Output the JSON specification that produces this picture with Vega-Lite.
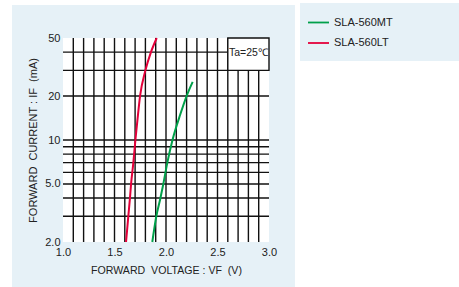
{
  "$schema": "https://vega.github.io/schema/vega-lite/v6.json",
  "width": 206,
  "height": 204,
  "autosize": {"type": "none"},
  "padding": {"left": 63, "top": 38, "right": 190, "bottom": 45},
  "background": "white",
  "config": {
    "font": "Liberation Sans",
    "view": {"stroke": "#111", "strokeWidth": 1.5},
    "axis": {"labelFont": "Liberation Sans", "titleFont": "Liberation Sans", "labelColor": "#222", "titleColor": "#222", "labelFontSize": 11, "titleFontWeight": "normal", "labelFlush": false, "labelOverlap": false}
  },
  "datasets": {
    "panels": [
      {"panel": "chart", "x0": 0.505, "x1": 3.252, "y0": 0.983, "y1": 84.2},
      {"panel": "legend", "x0": 3.301, "x1": 4.9, "y0": 34.8, "y1": 86.9}
    ],
    "plot": [{"x0": 1, "x1": 3, "y0": 2, "y1": 50}],
    "gridx": [{"v": 1.1}, {"v": 1.2}, {"v": 1.3}, {"v": 1.4}, {"v": 1.5}, {"v": 1.6}, {"v": 1.7}, {"v": 1.8}, {"v": 1.9}, {"v": 2.0}, {"v": 2.1}, {"v": 2.2}, {"v": 2.3}, {"v": 2.4}, {"v": 2.5}, {"v": 2.6}, {"v": 2.7}, {"v": 2.8}, {"v": 2.9}],
    "gridy": [{"v": 3}, {"v": 4}, {"v": 5}, {"v": 6}, {"v": 7}, {"v": 8}, {"v": 9}, {"v": 10}, {"v": 20}, {"v": 30}, {"v": 40}],
    "box": [{"x0": 2.6, "x1": 3.0, "y0": 30, "y1": 50, "xm": 2.8, "ym": 39.5, "label": "Ta=25℃"}],
    "curves": [
      {"series": "SLA-560LT", "vf": 1.612, "current": 2},
      {"series": "SLA-560LT", "vf": 1.634, "current": 3},
      {"series": "SLA-560LT", "vf": 1.65, "current": 4},
      {"series": "SLA-560LT", "vf": 1.661, "current": 5},
      {"series": "SLA-560LT", "vf": 1.683, "current": 7},
      {"series": "SLA-560LT", "vf": 1.703, "current": 10},
      {"series": "SLA-560LT", "vf": 1.724, "current": 14},
      {"series": "SLA-560LT", "vf": 1.748, "current": 20},
      {"series": "SLA-560LT", "vf": 1.80, "current": 30},
      {"series": "SLA-560LT", "vf": 1.854, "current": 40},
      {"series": "SLA-560LT", "vf": 1.91, "current": 50},
      {"series": "SLA-560MT", "vf": 1.867, "current": 2},
      {"series": "SLA-560MT", "vf": 1.906, "current": 3},
      {"series": "SLA-560MT", "vf": 1.946, "current": 4},
      {"series": "SLA-560MT", "vf": 1.974, "current": 5},
      {"series": "SLA-560MT", "vf": 2.013, "current": 7},
      {"series": "SLA-560MT", "vf": 2.063, "current": 10},
      {"series": "SLA-560MT", "vf": 2.139, "current": 15},
      {"series": "SLA-560MT", "vf": 2.2, "current": 20},
      {"series": "SLA-560MT", "vf": 2.259, "current": 25}
    ]
  },
  "layer": [
    {
      "data": {"name": "panels"},
      "mark": {"type": "rect", "color": "#e6f1f7", "clip": false},
      "encoding": {
        "x": {"field": "x0", "type": "quantitative", "scale": {"domain": [1, 3], "zero": false, "nice": false}, "title": "FORWARD\u00a0 VOLTAGE : VF\u00a0 (V)",
          "axis": {"values": [1, 1.5, 2, 2.5, 3], "format": ".1f", "ticks": false, "domain": false, "grid": false, "labelPadding": 4, "titlePadding": 8, "titleFontSize": 10.6, "zindex": 1}},
        "x2": {"field": "x1"},
        "y": {"field": "y0", "type": "quantitative", "scale": {"type": "log", "domain": [2, 50], "nice": false}, "title": "FORWARD\u00a0 CURRENT : IF\u00a0 (mA)",
          "axis": {"values": [2, 5, 10, 20, 50], "labelExpr": "datum.value < 10 ? format(datum.value, '.1f') : format(datum.value, 'd')", "ticks": false, "domain": false, "grid": false, "labelPadding": 3, "titlePadding": 6, "titleFontSize": 11, "zindex": 1}},
        "y2": {"field": "y1"}
      }
    },
    {
      "data": {"name": "plot"},
      "mark": {"type": "rect", "color": "white"},
      "encoding": {
        "x": {"field": "x0", "type": "quantitative", "scale": {"domain": [1, 3], "zero": false, "nice": false}, "title": "FORWARD\u00a0 VOLTAGE : VF\u00a0 (V)"},
        "x2": {"field": "x1"},
        "y": {"field": "y0", "type": "quantitative", "scale": {"type": "log", "domain": [2, 50], "nice": false}, "title": "FORWARD\u00a0 CURRENT : IF\u00a0 (mA)"},
        "y2": {"field": "y1"}
      }
    },
    {
      "data": {"name": "gridx"},
      "mark": {"type": "rule", "color": "#111", "strokeWidth": 1.4},
      "encoding": {
        "x": {"field": "v", "type": "quantitative", "scale": {"domain": [1, 3], "zero": false, "nice": false}, "title": "FORWARD\u00a0 VOLTAGE : VF\u00a0 (V)"}
      }
    },
    {
      "data": {"name": "gridy"},
      "mark": {"type": "rule", "color": "#111", "strokeWidth": 1.4},
      "encoding": {
        "y": {"field": "v", "type": "quantitative", "scale": {"type": "log", "domain": [2, 50], "nice": false}, "title": "FORWARD\u00a0 CURRENT : IF\u00a0 (mA)"}
      }
    },
    {
      "data": {"name": "box"},
      "mark": {"type": "rect", "fill": "white", "stroke": "#111", "strokeWidth": 1.4},
      "encoding": {
        "x": {"field": "x0", "type": "quantitative", "scale": {"domain": [1, 3], "zero": false, "nice": false}, "title": "FORWARD\u00a0 VOLTAGE : VF\u00a0 (V)"},
        "x2": {"field": "x1"},
        "y": {"field": "y0", "type": "quantitative", "scale": {"type": "log", "domain": [2, 50], "nice": false}, "title": "FORWARD\u00a0 CURRENT : IF\u00a0 (mA)"},
        "y2": {"field": "y1"}
      }
    },
    {
      "data": {"name": "box"},
      "mark": {"type": "text", "font": "Liberation Sans", "fontSize": 10.5, "color": "#222", "baseline": "middle", "align": "center"},
      "encoding": {
        "x": {"field": "xm", "type": "quantitative", "scale": {"domain": [1, 3], "zero": false, "nice": false}, "title": "FORWARD\u00a0 VOLTAGE : VF\u00a0 (V)"},
        "y": {"field": "ym", "type": "quantitative", "scale": {"type": "log", "domain": [2, 50], "nice": false}, "title": "FORWARD\u00a0 CURRENT : IF\u00a0 (mA)"},
        "text": {"field": "label"}
      }
    },
    {
      "data": {"name": "curves"},
      "mark": {"type": "line", "interpolate": "monotone", "strokeWidth": 2},
      "encoding": {
        "x": {"field": "vf", "type": "quantitative", "scale": {"domain": [1, 3], "zero": false, "nice": false}, "title": "FORWARD\u00a0 VOLTAGE : VF\u00a0 (V)"},
        "y": {"field": "current", "type": "quantitative", "scale": {"type": "log", "domain": [2, 50], "nice": false}, "title": "FORWARD\u00a0 CURRENT : IF\u00a0 (mA)"},
        "color": {"field": "series", "type": "nominal",
          "scale": {"domain": ["SLA-560MT", "SLA-560LT"], "range": ["#00a04a", "#e4003a"]},
          "legend": {"title": null, "orient": "none", "legendX": 244, "legendY": -27, "symbolType": "stroke", "symbolSize": 441, "symbolStrokeWidth": 1.8, "rowPadding": 3.5, "labelOffset": 4, "labelFontSize": 11, "labelColor": "#222", "labelFont": "Liberation Sans", "padding": 0, "zindex": 1}
        },
        "order": {"field": "vf", "type": "quantitative"}
      }
    }
  ]
}
